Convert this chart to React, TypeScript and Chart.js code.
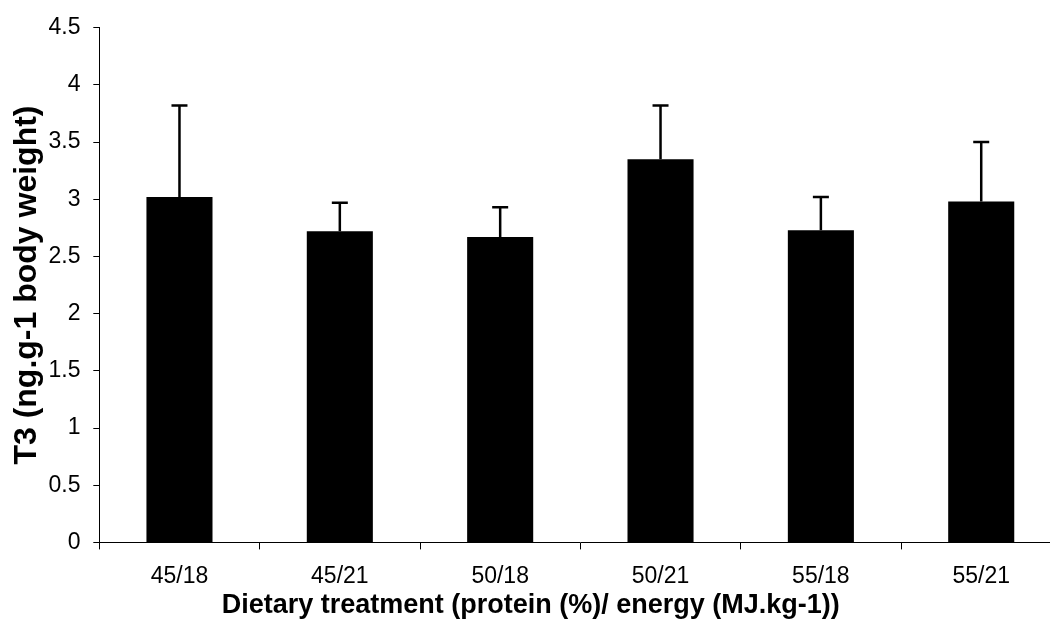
import React, { useEffect, useRef } from "react";
import { Chart, registerables } from "chart.js";

Chart.register(...registerables);

// Dietary treatments: protein (%) / energy (MJ.kg-1)
const categories = ["45/18", "45/21", "50/18", "50/21", "55/18", "55/21"];
// Mean plasma T3 (ng.g-1 body weight)
const means = [3.02, 2.72, 2.67, 3.35, 2.73, 2.98];
// Upper error (SD) for each treatment
const errors = [0.8, 0.25, 0.26, 0.47, 0.29, 0.52];
// Value axis ticks
const yTicks = [0, 0.5, 1, 1.5, 2, 2.5, 3, 3.5, 4, 4.5];

const FONT = '"Liberation Sans", Arial, Helvetica, sans-serif';
const CANVAS_W = 1080;
const CANVAS_H = 630;

// Draws the upward error whiskers with a cap on each bar
const errorBarPlugin = {
  id: "errorBars",
  afterDatasetsDraw(chart: any) {
    const meta = chart.getDatasetMeta(0);
    const yScale = chart.scales.y;
    const ctx = chart.ctx;
    ctx.save();
    ctx.strokeStyle = "#000";
    ctx.lineWidth = 2.5;
    meta.data.forEach((bar: any, i: number) => {
      const x = bar.x;
      const base = yScale.getPixelForValue(means[i]);
      const top = yScale.getPixelForValue(means[i] + errors[i]);
      ctx.beginPath();
      ctx.moveTo(x, base);
      ctx.lineTo(x, top);
      ctx.moveTo(x - 8, top);
      ctx.lineTo(x + 8, top);
      ctx.stroke();
    });
    ctx.restore();
  },
};

export default function App() {
  const canvasRef = useRef<HTMLCanvasElement | null>(null);

  useEffect(() => {
    const canvas = canvasRef.current;
    if (!canvas) return;
    const chart = new Chart(canvas, {
      type: "bar",
      data: {
        labels: categories,
        datasets: [
          {
            data: means,
            backgroundColor: "#000",
            borderWidth: 0,
            barPercentage: 0.412,
            categoryPercentage: 1,
          },
        ],
      },
      options: {
        responsive: false,
        animation: false,
        layout: { padding: { top: 27.7, right: CANVAS_W - 1061.4, bottom: 0, left: 0 } },
        plugins: {
          legend: { display: false },
          tooltip: { enabled: false },
          title: {
            display: true,
            position: "bottom",
            text: "Dietary treatment (protein (%)/ energy (MJ.kg-1))",
            color: "#000",
            font: { family: FONT, size: 27, weight: "bold" },
            padding: { top: 0, bottom: 7.8 },
          },
        },
        scales: {
          x: {
            type: "category",
            grid: {
              display: true,
              drawOnChartArea: false,
              drawTicks: true,
              tickLength: 7,
              color: "#000",
              offset: true,
            },
            border: { display: true, color: "#000", width: 1 },
            ticks: {
              color: "#000",
              font: { family: FONT, size: 23 },
              padding: 13.8,
              maxRotation: 0,
              autoSkip: false,
            },
            afterFit: (scale: any) => {
              scale.height = 47.4;
            },
          },
          y: {
            type: "linear",
            min: 0,
            max: 4.5,
            grid: {
              display: true,
              drawOnChartArea: false,
              drawTicks: true,
              tickLength: 6,
              color: "#000",
            },
            border: { display: true, color: "#000", width: 1 },
            ticks: {
              color: "#000",
              font: { family: FONT, size: 23 },
              padding: 12.8,
              callback: (v: any) => String(v),
            },
            afterBuildTicks: (scale: any) => {
              scale.ticks = yTicks.map((v) => ({ value: v }));
            },
            title: {
              display: true,
              text: "T3 (ng.g-1 body weight)",
              color: "#000",
              font: { family: FONT, size: 32, weight: "bold" },
              padding: { top: 8, bottom: 0 },
            },
            afterFit: (scale: any) => {
              scale.width = 99.3;
            },
          },
        },
      },
      plugins: [errorBarPlugin],
    });
    return () => chart.destroy();
  }, []);

  return (
    <div
      style={{
        position: "fixed",
        left: 0,
        top: 0,
        width: 1050,
        height: 630,
        overflow: "hidden",
        background: "#fff",
      }}
    >
      <canvas ref={canvasRef} width={CANVAS_W} height={CANVAS_H} />
    </div>
  );
}
